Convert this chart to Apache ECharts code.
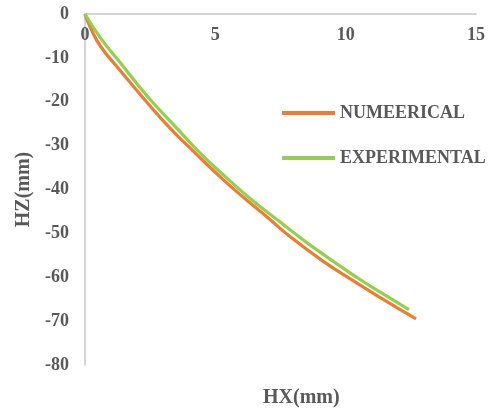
<!DOCTYPE html>
<html>
<head>
<meta charset="utf-8">
<script src="https://cdn.jsdelivr.net/npm/echarts@6/dist/echarts.min.js"></script>
<style>html,body{margin:0;padding:0;background:#fff}#c{width:500px;height:413px}</style>
</head>
<body>
<div id="c"></div>
<script>
var seriesNames = ['NUMEERICAL', 'EXPERIMENTAL'];
var numericalX = [0, 0.2, 0.6, 1.34, 2.3, 3.26, 4.3, 5.31, 6.2, 7.03, 7.86, 9.1, 10.42, 11.6, 12.7];
var numericalY = [0, -3.0, -7.4, -12.8, -19.6, -26.0, -32.1, -37.8, -42.4, -46.5, -50.7, -56.2, -61.3, -65.6, -69.5];
var experimentalX = [0, 0.6, 1.34, 2.4, 3.52, 4.4, 5.31, 6.3, 7.35, 8.6, 10.42, 11.5, 12.43];
var experimentalY = [0, -5.5, -11.0, -18.8, -26.0, -31.6, -36.7, -41.9, -46.8, -52.5, -60.0, -64.0, -67.4];
var xTicks = [0, 5, 10, 15];
var yTicks = [0, -10, -20, -30, -40, -50, -60, -70, -80];
var xTitle = 'HX(mm)';
var yTitle = 'HZ(mm)';

function pairs(xs, ys) { return xs.map(function (x, i) { return [x, ys[i]]; }); }

var font = '"Liberation Serif", "Times New Roman", serif';
var grey = '#595959';
var chart = echarts.init(document.getElementById('c'), null, {renderer: 'canvas'});
chart.setOption({
  animation: false,
  backgroundColor: '#ffffff',
  grid: {left: 85, right: 24, top: 14, bottom: 48, containLabel: false, outerBoundsMode: 'none'},
  legend: {
    orient: 'vertical', left: 282, top: 103, padding: 0,
    itemWidth: 53, itemHeight: 4, itemGap: 25, icon: 'rect',
    textStyle: {fontFamily: font, fontWeight: 'bold', fontSize: 18, color: grey, lineHeight: 20},
    data: seriesNames
  },
  xAxis: {
    type: 'value', position: 'top', min: xTicks[0], max: xTicks[xTicks.length - 1], interval: 5,
    axisLine: {onZero: false, lineStyle: {color: '#c6c6c6', width: 1.5}},
    axisTick: {show: false}, splitLine: {show: false},
    axisLabel: {inside: true, margin: 12, fontFamily: font, fontWeight: 'bold', fontSize: 18, color: grey}
  },
  yAxis: {
    type: 'value', min: yTicks[yTicks.length - 1], max: yTicks[0], interval: 10,
    name: yTitle, nameLocation: 'middle', nameGap: 49, nameRotate: 90,
    nameTextStyle: {fontFamily: font, fontWeight: 'bold', fontSize: 20, color: grey},
    axisLine: {show: true, onZero: false, lineStyle: {color: '#c6c6c6', width: 1.5}},
    axisTick: {show: false}, splitLine: {show: false},
    axisLabel: {margin: 16, fontFamily: font, fontWeight: 'bold', fontSize: 18, color: grey}
  },
  graphic: [{
    type: 'text', left: 263, top: 388,
    style: {text: xTitle, font: 'bold 20px ' + font, fill: grey}
  }],
  series: [
    {name: seriesNames[0], type: 'line', smooth: true, showSymbol: false, symbol: 'none',
     data: pairs(numericalX, numericalY), lineStyle: {color: '#ED7D31', width: 3.2}, itemStyle: {color: '#ED7D31'}},
    {name: seriesNames[1], type: 'line', smooth: true, showSymbol: false, symbol: 'none',
     data: pairs(experimentalX, experimentalY), lineStyle: {color: '#92D050', width: 3.2}, itemStyle: {color: '#92D050'}}
  ]
});
</script>
</body>
</html>
